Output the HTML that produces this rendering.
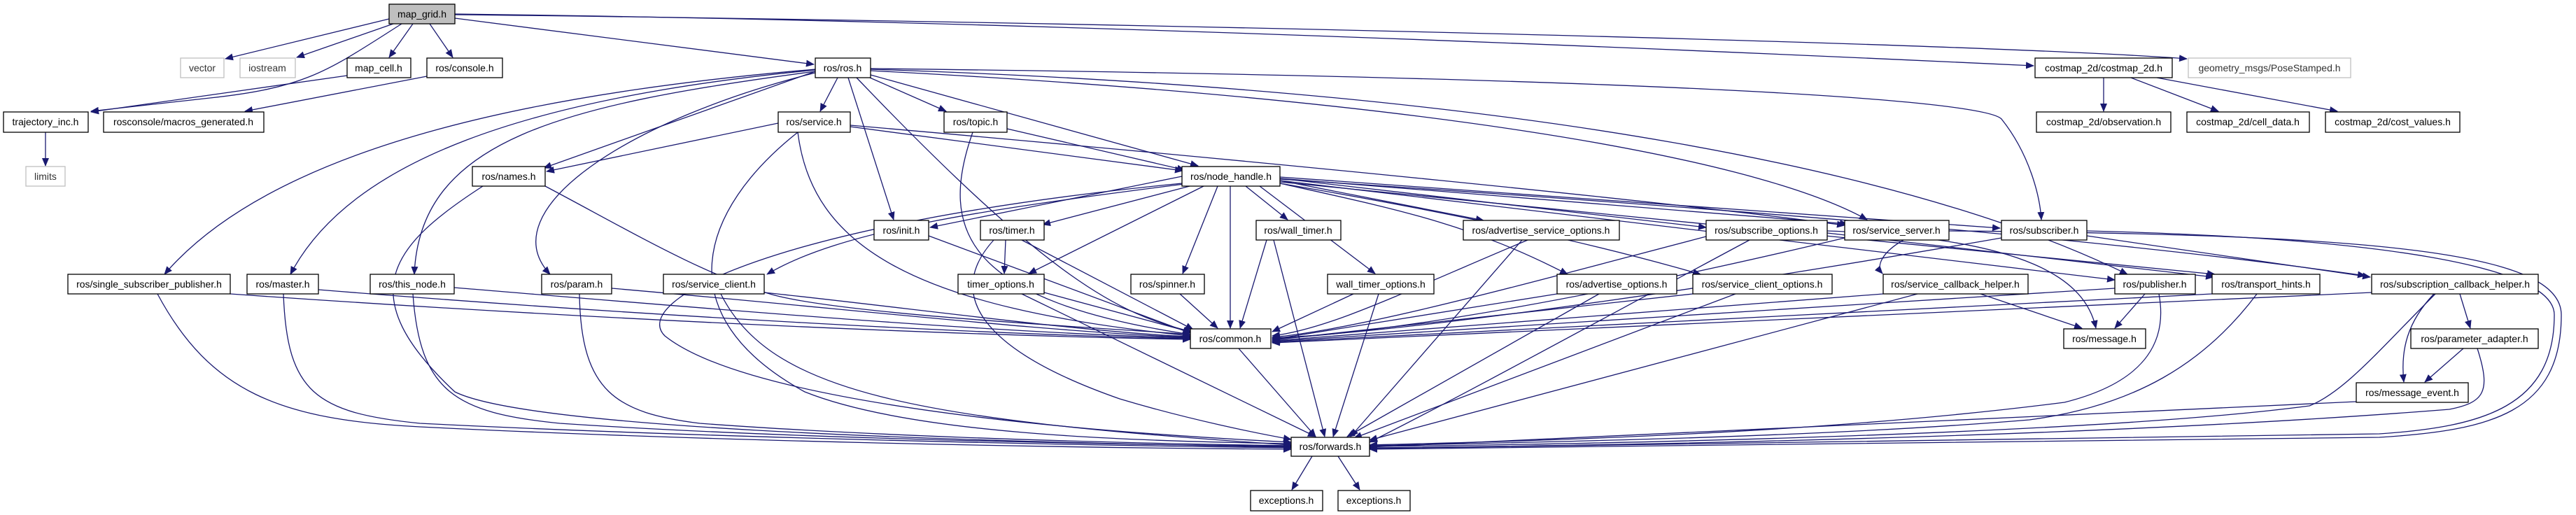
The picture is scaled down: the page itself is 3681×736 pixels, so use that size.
<!DOCTYPE html>
<html><head><meta charset="utf-8"><style>
html,body{margin:0;padding:0;background:#fff;}
svg{display:block;}
text{font-family:"Liberation Sans",sans-serif;font-size:14px;fill:#000;text-anchor:middle;}
.e{fill:none;stroke:#191970;stroke-width:1.3;marker-end:url(#a);}
.n{fill:#fff;stroke:#000;stroke-width:1.3;}
.g{fill:#fff;stroke:#bfbfbf;stroke-width:1.3;}
</style></head><body>
<svg width="3681" height="736" viewBox="0 0 3681 736" xmlns="http://www.w3.org/2000/svg">
<defs><marker id="a" markerWidth="12" markerHeight="10" refX="11" refY="5" orient="auto" markerUnits="userSpaceOnUse"><path d="M0,0 L12,5 L0,10 z" fill="#191970"/></marker></defs>
<g>
<path class="e" d="M556,27 L322,84"/>
<path class="e" d="M562,34 L424,82"/>
<path class="e" d="M590,34 L556,82"/>
<path class="e" d="M614,34 L647,82"/>
<path class="e" d="M574,34 C470,100 440,125 300,140 L130,159"/>
<path class="e" d="M496,108 L130,160"/>
<path class="e" d="M610,109 L350,159"/>
<path class="e" d="M65,189 L65,237"/>
<path class="e" d="M650,26 L1163,92"/>
<path class="e" d="M650,20 C1500,30 2500,75 2906,94"/>
<path class="e" d="M650,21 C1500,30 2800,60 3125,84"/>
<path class="e" d="M3006,111 L3006,159"/>
<path class="e" d="M3045,111 L3170,159"/>
<path class="e" d="M3082,111 L3340,159"/>
<path class="e" d="M1197,111 L1172,159"/>
<path class="e" d="M1243,111 L1352,159"/>
<path class="e" d="M1244,107 L1712,237"/>
<path class="e" d="M1212,111 L1277,314"/>
<path class="e" d="M1165,102 L777,240"/>
<path class="e" d="M1165,99 C800,130 400,200 235,392"/>
<path class="e" d="M1165,100 C750,140 500,230 415,392"/>
<path class="e" d="M1165,102 C800,150 600,200 592,392"/>
<path class="e" d="M1165,104 C900,170 700,300 786,392"/>
<path class="e" d="M1224,111 C1500,400 1600,450 1703,474"/>
<path class="e" d="M1244,101 C2000,140 2500,220 2668,314"/>
<path class="e" d="M1244,98 C2300,110 2830,140 2860,170 C2900,220 2915,280 2917,314"/>
<path class="e" d="M1244,99 C2200,130 2750,250 3040,392"/>
<path class="e" d="M1112,176 L781,245"/>
<path class="e" d="M1215,181 L1690,244"/>
<path class="e" d="M1215,179 C1800,230 2400,290 2636,322"/>
<path class="e" d="M1439,184 L1693,243"/>
<path class="e" d="M1689,252 L1329,325"/>
<path class="e" d="M1700,266 L1490,321"/>
<path class="e" d="M1780,266 L1840,314"/>
<path class="e" d="M1758,266 L1758,469"/>
<path class="e" d="M1740,266 L1690,391"/>
<path class="e" d="M1720,266 L1470,391"/>
<path class="e" d="M1437,343 L1435,391"/>
<path class="e" d="M1800,266 L1965,391"/>
<path class="e" d="M1829,258 L2120,315"/>
<path class="e" d="M1829,255 L2438,325"/>
<path class="e" d="M1829,255 L2640,320"/>
<path class="e" d="M1829,253 L2858,326"/>
<path class="e" d="M1829,262 C2000,300 2100,320 2240,392"/>
<path class="e" d="M1829,262 C2050,300 2250,340 2430,392"/>
<path class="e" d="M1700,262 C1400,300 1200,330 1096,392"/>
<path class="e" d="M1829,260 L3165,392"/>
<path class="e" d="M1829,258 L3022,400"/>
<path class="e" d="M1829,256 C2500,300 3000,340 3380,394"/>
<path class="e" d="M329,420 C900,460 1400,480 1701,485"/>
<path class="e" d="M455,414 C900,450 1400,478 1701,484"/>
<path class="e" d="M649,411 C1000,440 1400,475 1701,483"/>
<path class="e" d="M874,412 C1200,440 1500,475 1701,482"/>
<path class="e" d="M1092,418 C1300,440 1550,475 1701,481"/>
<path class="e" d="M779,266 C900,330 1000,390 1100,420 S1600,470 1701,478"/>
<path class="e" d="M1327,337 L1701,476"/>
<path class="e" d="M1140,189 C1160,350 1300,440 1701,480"/>
<path class="e" d="M1492,418 L1703,475"/>
<path class="e" d="M1460,343 L1705,471"/>
<path class="e" d="M1686,420 L1740,469"/>
<path class="e" d="M1810,343 L1772,469"/>
<path class="e" d="M1934,420 L1818,474"/>
<path class="e" d="M2183,343 C2000,420 1900,470 1818,480"/>
<path class="e" d="M2438,338 C2200,400 1950,470 1818,482"/>
<path class="e" d="M2636,340 C2300,420 2000,475 1818,484"/>
<path class="e" d="M2225,420 L1818,485"/>
<path class="e" d="M2419,420 L1818,486"/>
<path class="e" d="M2691,420 L1818,487"/>
<path class="e" d="M3022,412 L1818,488"/>
<path class="e" d="M3161,420 L1818,489"/>
<path class="e" d="M3389,418 L1818,490"/>
<path class="e" d="M2860,340 C2400,420 2000,475 1818,483"/>
<path class="e" d="M1390,189 C1340,330 1380,430 1701,478"/>
<path class="e" d="M1770,498 L1880,624"/>
<path class="e" d="M225,420 C300,560 400,600 600,610 C1000,630 1500,640 1845,642"/>
<path class="e" d="M405,420 C410,560 450,590 600,605 C1000,625 1500,636 1845,640"/>
<path class="e" d="M590,420 C600,560 650,590 800,605 C1100,625 1500,634 1845,638"/>
<path class="e" d="M828,420 C830,560 880,590 1000,605 C1200,620 1500,632 1845,637"/>
<path class="e" d="M690,266 C560,350 500,420 650,560 C750,610 1300,630 1845,639"/>
<path class="e" d="M1030,420 C1100,560 1300,600 1845,636"/>
<path class="e" d="M1140,189 C1000,300 950,450 1150,560 C1300,620 1600,630 1845,634"/>
<path class="e" d="M1689,262 C1100,320 900,430 950,480 C1050,560 1400,610 1845,632"/>
<path class="e" d="M1460,420 L1880,624"/>
<path class="e" d="M1420,343 C1350,420 1400,500 1600,570 C1700,600 1800,620 1845,628"/>
<path class="e" d="M1820,343 L1893,624"/>
<path class="e" d="M1970,420 L1905,624"/>
<path class="e" d="M2285,420 L1925,624"/>
<path class="e" d="M2480,420 L1935,626"/>
<path class="e" d="M2740,420 L1957,629"/>
<path class="e" d="M2175,343 L1930,624"/>
<path class="e" d="M2500,343 C2300,450 2100,560 1957,632"/>
<path class="e" d="M3085,420 C3100,500 3050,550 2950,575 C2600,620 2200,630 1957,636"/>
<path class="e" d="M3225,420 C3150,520 3050,580 2900,600 C2600,625 2200,632 1957,637"/>
<path class="e" d="M3480,420 C3400,500 3350,560 3300,580 C3000,620 2300,635 1957,638"/>
<path class="e" d="M3367,574 L1957,639"/>
<path class="e" d="M3540,498 C3560,560 3550,575 3500,585 C3000,625 2300,637 1957,640"/>
<path class="e" d="M2982,330 C3400,340 3650,380 3650,450 C3650,580 3550,610 3400,620 L1957,641"/>
<path class="e" d="M2785,330 C3400,335 3660,360 3660,450 C3660,590 3560,615 3400,625 L1957,642"/>
<path class="e" d="M1875,652 L1846,700"/>
<path class="e" d="M1912,652 L1943,700"/>
<path class="e" d="M2830,420 L2975,469"/>
<path class="e" d="M3065,420 L3022,469"/>
<path class="e" d="M2611,330 C2900,340 2980,400 2995,469"/>
<path class="e" d="M2982,337 L3387,396"/>
<path class="e" d="M2611,333 L3163,396"/>
<path class="e" d="M3515,420 L3530,469"/>
<path class="e" d="M3478,420 C3440,460 3430,500 3435,546"/>
<path class="e" d="M3520,498 L3465,546"/>
<path class="e" d="M2720,343 C2690,360 2680,380 2690,391"/>
</g>
<g>
<rect x="556" y="6" width="94" height="28" fill="#bfbfbf" stroke="#000" stroke-width="1.3"/><text x="603" y="25">map_grid.h</text>
<rect class="g" x="258" y="83" width="62" height="28"/><text x="289" y="102" style="fill:#333">vector</text>
<rect class="g" x="343" y="83" width="79" height="28"/><text x="382" y="102" style="fill:#333">iostream</text>
<rect class="n" x="496" y="83" width="91" height="28"/><text x="541" y="102">map_cell.h</text>
<rect class="n" x="610" y="83" width="108" height="28"/><text x="664" y="102">ros/console.h</text>
<rect class="n" x="1165" y="83" width="79" height="28"/><text x="1204" y="102">ros/ros.h</text>
<rect class="n" x="2908" y="83" width="196" height="28"/><text x="3006" y="102">costmap_2d/costmap_2d.h</text>
<rect class="g" x="3127" y="83" width="232" height="28"/><text x="3243" y="102" style="fill:#333">geometry_msgs/PoseStamped.h</text>
<rect class="n" x="5" y="160" width="121" height="29"/><text x="65" y="179">trajectory_inc.h</text>
<rect class="n" x="148" y="160" width="229" height="29"/><text x="262" y="179">rosconsole/macros_generated.h</text>
<rect class="n" x="1112" y="160" width="103" height="29"/><text x="1163" y="179">ros/service.h</text>
<rect class="n" x="1349" y="160" width="90" height="29"/><text x="1394" y="179">ros/topic.h</text>
<rect class="n" x="2910" y="160" width="192" height="29"/><text x="3006" y="179">costmap_2d/observation.h</text>
<rect class="n" x="3125" y="160" width="175" height="29"/><text x="3212" y="179">costmap_2d/cell_data.h</text>
<rect class="n" x="3323" y="160" width="192" height="29"/><text x="3419" y="179">costmap_2d/cost_values.h</text>
<rect class="g" x="37" y="238" width="56" height="28"/><text x="65" y="257" style="fill:#333">limits</text>
<rect class="n" x="675" y="238" width="104" height="28"/><text x="727" y="257">ros/names.h</text>
<rect class="n" x="1689" y="238" width="140" height="28"/><text x="1759" y="257">ros/node_handle.h</text>
<rect class="n" x="1249" y="315" width="78" height="28"/><text x="1288" y="334">ros/init.h</text>
<rect class="n" x="1401" y="315" width="91" height="28"/><text x="1446" y="334">ros/timer.h</text>
<rect class="n" x="1795" y="315" width="121" height="28"/><text x="1855" y="334">ros/wall_timer.h</text>
<rect class="n" x="2091" y="315" width="223" height="28"/><text x="2202" y="334">ros/advertise_service_options.h</text>
<rect class="n" x="2438" y="315" width="173" height="28"/><text x="2524" y="334">ros/subscribe_options.h</text>
<rect class="n" x="2636" y="315" width="149" height="28"/><text x="2710" y="334">ros/service_server.h</text>
<rect class="n" x="2860" y="315" width="122" height="28"/><text x="2921" y="334">ros/subscriber.h</text>
<rect class="n" x="97" y="392" width="232" height="28"/><text x="213" y="411">ros/single_subscriber_publisher.h</text>
<rect class="n" x="353" y="392" width="102" height="28"/><text x="404" y="411">ros/master.h</text>
<rect class="n" x="529" y="392" width="120" height="28"/><text x="589" y="411">ros/this_node.h</text>
<rect class="n" x="774" y="392" width="100" height="28"/><text x="824" y="411">ros/param.h</text>
<rect class="n" x="948" y="392" width="144" height="28"/><text x="1020" y="411">ros/service_client.h</text>
<rect class="n" x="1369" y="392" width="123" height="28"/><text x="1430" y="411">timer_options.h</text>
<rect class="n" x="1616" y="392" width="105" height="28"/><text x="1668" y="411">ros/spinner.h</text>
<rect class="n" x="1897" y="392" width="152" height="28"/><text x="1973" y="411">wall_timer_options.h</text>
<rect class="n" x="2225" y="392" width="171" height="28"/><text x="2310" y="411">ros/advertise_options.h</text>
<rect class="n" x="2419" y="392" width="199" height="28"/><text x="2518" y="411">ros/service_client_options.h</text>
<rect class="n" x="2691" y="392" width="207" height="28"/><text x="2794" y="411">ros/service_callback_helper.h</text>
<rect class="n" x="3022" y="392" width="115" height="28"/><text x="3079" y="411">ros/publisher.h</text>
<rect class="n" x="3161" y="392" width="154" height="28"/><text x="3238" y="411">ros/transport_hints.h</text>
<rect class="n" x="3389" y="392" width="238" height="28"/><text x="3508" y="411">ros/subscription_callback_helper.h</text>
<rect class="n" x="1701" y="470" width="115" height="28"/><text x="1758" y="489">ros/common.h</text>
<rect class="n" x="2949" y="470" width="117" height="28"/><text x="3007" y="489">ros/message.h</text>
<rect class="n" x="3445" y="470" width="182" height="28"/><text x="3536" y="489">ros/parameter_adapter.h</text>
<rect class="n" x="3367" y="547" width="160" height="28"/><text x="3447" y="566">ros/message_event.h</text>
<rect class="n" x="1845" y="625" width="112" height="27"/><text x="1901" y="643">ros/forwards.h</text>
<rect class="n" x="1787" y="701" width="103" height="29"/><text x="1838" y="720">exceptions.h</text>
<rect class="n" x="1912" y="701" width="103" height="29"/><text x="1963" y="720">exceptions.h</text>
</g>
</svg>
</body></html>
